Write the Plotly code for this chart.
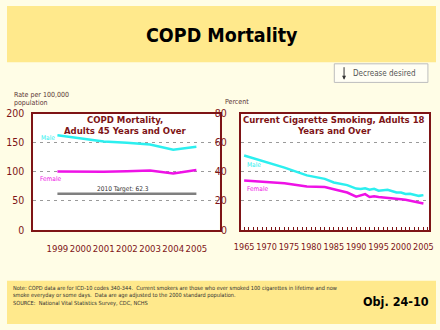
import plotly.graph_objects as go

# ---------------- data ----------------
copd_years = [1999, 2000, 2001, 2002, 2003, 2004, 2005]
copd_male = [163, 157, 152, 150, 147, 138, 143]
copd_female = [100.5, 100, 100, 101, 102, 97, 103]
copd_target = 62.3
copd_yticks = [0, 50, 100, 150, 200]

smoke_years = [1965, 1974, 1979, 1983, 1985, 1987, 1988, 1990, 1991, 1992, 1993,
               1994, 1995, 1997, 1998, 1999, 2000, 2001, 2002, 2003, 2004, 2005]
smoke_male = [51.2, 42.8, 37.5, 35.1, 32.6, 31.2, 30.8, 28.4, 28.1, 28.6, 27.7,
              28.2, 27.0, 27.6, 26.4, 25.7, 25.7, 24.7, 24.8, 24.1, 23.4, 23.9]
smoke_female = [33.9, 32.1, 29.9, 29.5, 27.9, 26.5, 25.7, 22.8, 23.5, 24.6, 22.6,
                23.1, 22.6, 22.1, 22.0, 21.5, 21.0, 20.7, 20.0, 19.2, 18.5, 18.1]
smoke_yticks = [0, 20, 40, 60, 80]
smoke_xticks = [1965, 1970, 1975, 1980, 1985, 1990, 1995, 2000, 2005]

# ---------------- style ----------------
W, H = 440, 330
CYAN = "#2CEFEF"
MAGENTA = "#EE12E6"
DARKRED = "#7E1416"
BANNER = "#FFE98C"
CREAM = "#FFFDE6"
COND = "DejaVu Sans Condensed, DejaVu Sans, sans-serif"
VERD = "DejaVu Sans Condensed, DejaVu Sans, Verdana, sans-serif"


def px(x):
    return x / W


def py(y):
    return (H - y) / H


fig = go.Figure()

# left chart
fig.add_trace(go.Scatter(x=copd_years, y=copd_male, mode="lines",
                         line=dict(color=CYAN, width=2.5), xaxis="x", yaxis="y"))
fig.add_trace(go.Scatter(x=copd_years, y=copd_female, mode="lines",
                         line=dict(color=MAGENTA, width=2.5), xaxis="x", yaxis="y"))
fig.add_trace(go.Scatter(x=[copd_years[0], copd_years[-1]], y=[copd_target, copd_target],
                         mode="lines", line=dict(color="#7F7F7F", width=2.5),
                         xaxis="x", yaxis="y"))
# right chart
fig.add_trace(go.Scatter(x=smoke_years, y=smoke_male, mode="lines",
                         line=dict(color=CYAN, width=2.5), xaxis="x2", yaxis="y2"))
fig.add_trace(go.Scatter(x=smoke_years, y=smoke_female, mode="lines",
                         line=dict(color=MAGENTA, width=2.5), xaxis="x2", yaxis="y2"))

ydom = [py(232.3), py(111.7)]
axis_common = dict(showline=True, mirror=True, linecolor=DARKRED, linewidth=2,
                   zeroline=False)
xfont = dict(family=COND, size=9.5, color=DARKRED)
x2font = dict(family=COND, size=9, color=DARKRED)
yfont = dict(family=COND, size=10.5, color=DARKRED)

fig.update_layout(
    width=W, height=H,
    margin=dict(l=0, r=0, t=0, b=0),
    paper_bgcolor=CREAM, plot_bgcolor="white",
    showlegend=False,
    xaxis=dict(domain=[px(27), px(218)], range=[1997.96, 2006.0],
               tickvals=copd_years, ticks="", showgrid=False, tickangle=0,
               tickfont=xfont, ticklabelstandoff=9, anchor="y", **axis_common),
    yaxis=dict(domain=ydom, range=[0, 200], tickvals=copd_yticks, ticks="",
               showgrid=True, gridcolor="#9A9A9A", griddash="3px,4px", gridwidth=1,
               tickfont=yfont, ticklabelstandoff=5, anchor="x", **axis_common),
    xaxis2=dict(domain=[px(240), px(433.3)], range=[1964.3, 2006.35],
                tickvals=smoke_xticks, ticks="inside", ticklen=3, tickcolor=DARKRED,
                tickwidth=1, tickangle=0,
                minor=dict(ticks="inside", dtick=1, tick0=1965, ticklen=3,
                           tickcolor=DARKRED, tickwidth=1, showgrid=False),
                showgrid=False, tickfont=x2font, ticklabelstandoff=7, anchor="y2",
                **axis_common),
    yaxis2=dict(domain=ydom, range=[0, 80], tickvals=smoke_yticks, ticks="",
                showgrid=True, gridcolor="#9A9A9A", griddash="3px,4px", gridwidth=1,
                tickfont=yfont, ticklabelstandoff=10, anchor="x2", **axis_common),
)

# background banners and box
fig.add_shape(type="rect", xref="paper", yref="paper", x0=0, x1=1, y0=py(58.3), y1=1,
              fillcolor=BANNER, line=dict(width=0), layer="below")
fig.add_shape(type="rect", xref="paper", yref="paper", x0=0, x1=1, y0=0, y1=py(285),
              fillcolor=BANNER, line=dict(width=0), layer="below")
fig.add_shape(type="rect", xref="paper", yref="paper", x0=px(335.7), x1=px(431.7),
              y0=py(79.3), y1=py(60), fillcolor="#FFFEF4",
              line=dict(color="#BDBDBD", width=1), layer="below")

ann = []


def A(text, x, y, size, color="black", family=VERD, xanchor="center", yanchor="middle"):
    ann.append(dict(text=text, x=px(x), y=py(y), xref="paper", yref="paper",
                    showarrow=False, xanchor=xanchor, yanchor=yanchor,
                    font=dict(family=family, size=size, color=color)))


A("<b>COPD Mortality</b>", 220, 31, 19.5, "black", VERD)
A("Decrease desired", 387.5, 69.7, 8, "#555555", VERD)
ann.append(dict(x=px(345.7), y=py(76.5), xref="paper", yref="paper", text="",
                showarrow=True, ax=0, ay=-14, arrowhead=2, arrowsize=0.8,
                arrowwidth=1, arrowcolor="#333333"))

A("Rate per 100,000", 5, 92.3, 7, "#5A3434", VERD, xanchor="left")
A("population", 5, 101, 7, "#5A3434", VERD, xanchor="left")
A("Percent", 222, 100, 7, "#5A3434", VERD, xanchor="left")

A("<b>COPD Mortality,</b>", 121, 117.7, 9.5, DARKRED)
A("<b>Adults 45 Years and Over</b>", 121, 129, 9.5, DARKRED)
A("<b>Current Cigarette Smoking, Adults 18</b>", 335.5, 118.3, 9.5, DARKRED)
A("<b>Years and Over</b>", 335.5, 129, 9.5, DARKRED)

A("Male", 32.5, 137, 6.5, CYAN, VERD, xanchor="left")
A("Female", 31.5, 179.5, 6.5, MAGENTA, VERD, xanchor="left")
A("Male", 244, 165.3, 6.5, CYAN, VERD, xanchor="left")
A("Female", 244, 190.3, 6.5, MAGENTA, VERD, xanchor="left")
A("2010 Target: 62.3", 119, 189.5, 6.5, "#333333", VERD)

A("Note: COPD data are for ICD-10 codes 340-344.  Current smokers are those who ever smoked "
  "100 cigarettes in lifetime and now", 4, 293, 5.6, "#333333", VERD, xanchor="left")
A("smoke everyday or some days.  Data are age adjusted to the 2000 standard population.",
  4, 300, 5.6, "#333333", VERD, xanchor="left")
A("SOURCE:  National Vital Statistics Survey, CDC, NCHS", 4, 309, 5.6, "#333333", VERD,
  xanchor="left")
A("<b>Obj. 24-10</b>", 435, 307, 12.5, "black", VERD, xanchor="right")

fig.update_layout(annotations=ann)

fig.write_html("out.html")
